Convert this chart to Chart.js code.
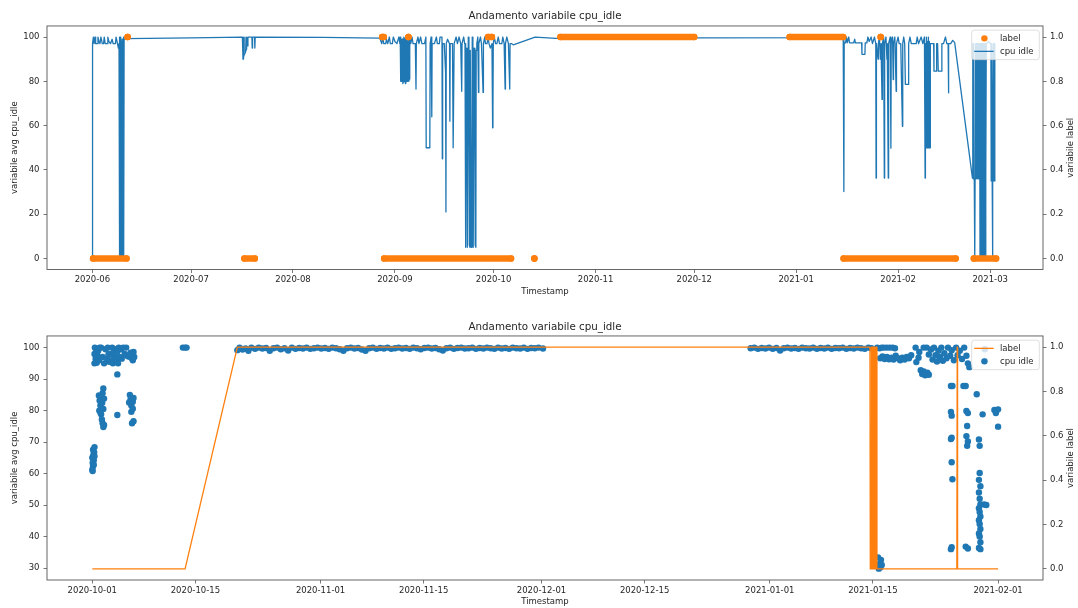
<!DOCTYPE html>
<html>
<head>
<meta charset="utf-8">
<script src="https://cdn.jsdelivr.net/npm/chart.js@4.4.1/dist/chart.umd.min.js"></script>
<style>
    body { margin: 0; background: #fff; }
    .box { position: absolute; left: 0; width: 1078px; }
    #topBox { top: 0; height: 305px; }
    #bottomBox { top: 305px; height: 303px; }
</style>
</head>
<body>
<div class="box" id="topBox"><canvas id="chartTop"></canvas></div>
<div class="box" id="bottomBox"><canvas id="chartBottom"></canvas></div>
<script>
// ---- top panel: x = days since 2020-06-01
const topOrigin = "2020-06-01";
const topTicks = ["2020-06", "2020-07", "2020-08", "2020-09", "2020-10", "2020-11", "2020-12", "2021-01", "2021-02", "2021-03"];
const topRange = [-13.8, 289.05];
const cpuTicksTop = [0, 20, 40, 60, 80, 100];
const labelTicks = [0, 0.2, 0.4, 0.6, 0.8, 1.0];

// cpu idle line [day, value]
const cpuIdleTop = [
    [0, 0], [0.05, 97], [0.3, 100], [0.5, 97], [0.8, 100], [1.0, 97], [1.5, 97], [1.7, 100], [2.0, 98], [2.3, 97], [2.6, 100],
    [3.0, 97], [3.4, 97], [3.6, 100], [3.9, 97], [4.5, 97], [4.7, 100], [5.0, 98], [5.5, 97], [6.0, 99], [6.3, 97], [7.0, 97],
    [7.2, 100], [7.5, 98], [7.9, 95], [8.1, 97], [8.15, 0], [8.3, 0], [8.35, 100], [8.45, 100], [8.5, 0], [8.65, 0], [8.7, 98],
    [8.8, 98], [8.85, 0], [9.0, 0], [9.05, 99], [9.15, 99], [9.2, 0], [9.35, 0], [9.4, 100], [9.5, 100], [9.55, 0], [9.6, 0],
    [9.65, 99], [10.2, 99.3], [30, 99.6],
    [45.6, 100], [45.8, 90], [45.9, 100], [46.0, 91], [46.3, 92.5], [46.4, 100], [46.5, 93], [46.8, 94.5], [46.9, 100],
    [47.2, 96], [47.3, 100], [48.5, 100], [48.6, 95], [48.7, 100], [49.3, 100], [49.4, 95], [49.5, 100], [70, 99.8], [87.4, 99.5],
    [88.0, 97], [88.3, 100], [88.6, 97], [89.2, 97], [89.4, 99], [89.8, 97], [90.3, 100], [90.6, 97], [91.2, 97], [91.5, 100],
    [92.0, 98], [92.6, 97], [93.2, 100], [93.5, 97],
    [93.6, 100], [93.75, 80], [94.0, 80], [94.1, 99], [94.3, 99], [94.4, 79], [94.6, 80], [94.7, 100], [94.9, 99], [95.0, 80],
    [95.2, 79], [95.3, 100], [95.5, 98], [95.6, 80], [95.8, 80], [95.9, 100], [96.1, 99], [96.2, 80], [96.4, 81], [96.5, 100],
    [96.8, 97], [97.2, 100], [97.5, 97], [98.2, 97], [98.4, 76.5], [98.5, 97], [99.0, 100], [99.3, 97], [99.8, 100], [100.2, 97],
    [101.0, 97], [101.4, 100], [101.5, 50], [102.6, 50], [102.7, 97], [103.0, 100], [103.2, 64], [103.3, 97], [104.0, 97],
    [104.6, 100], [104.9, 97], [105.5, 97], [105.7, 100], [106.3, 100], [106.4, 45], [106.5, 97], [107.0, 97], [107.4, 84],
    [107.5, 21], [107.6, 97], [108.0, 99], [108.6, 97], [108.7, 62], [108.8, 97], [109.5, 97], [109.7, 50], [109.9, 50],
    [110.0, 97], [110.6, 100], [111.0, 97], [111.5, 100], [112.0, 97], [112.3, 75.5], [112.4, 97], [112.9, 100], [113.2, 97],
    [113.3, 97], [113.4, 5], [113.6, 6], [113.7, 94], [113.9, 95], [114.0, 5], [114.2, 5], [114.3, 100], [114.5, 95], [114.6, 6],
    [114.8, 5], [114.9, 94], [115.1, 94], [115.2, 5], [115.4, 6], [115.5, 100], [115.7, 94], [115.8, 5], [116.0, 5], [116.1, 95],
    [116.3, 94], [116.4, 6], [116.6, 5], [116.7, 94], [116.9, 97],
    [117.2, 100], [117.4, 75], [117.5, 97], [118.0, 100], [118.3, 97], [118.8, 75], [118.9, 97], [119.3, 100], [119.5, 97],
    [120.0, 97], [120.3, 100], [120.6, 97], [121.0, 95], [121.5, 97], [121.7, 59], [121.8, 68], [121.9, 97], [122.2, 100],
    [122.6, 97], [123.0, 97], [123.4, 100], [123.8, 97], [124.5, 97], [124.8, 100], [125.2, 97], [125.5, 76.5], [125.6, 97],
    [126.0, 100], [126.5, 97], [126.9, 76.5], [127.0, 97], [127.5, 97], [128.0, 96.5], [134.6, 100], [141, 99.4], [184, 99.6],
    [228.0, 99.7],
    [228.3, 100], [228.5, 30.2], [228.6, 97.4], [229.0, 97.4], [229.3, 100], [229.5, 97.4], [230.0, 100], [230.2, 97.4],
    [231.5, 97.4], [231.8, 99], [232.0, 97.4], [233.9, 97.4], [234.0, 92.2], [234.9, 92.2], [235.0, 97.4], [235.5, 97.4],
    [235.8, 100], [236.2, 98], [236.8, 100], [237.2, 97], [237.8, 100], [238.2, 97], [238.3, 36.3], [238.4, 97], [238.9, 90],
    [239.0, 97], [239.3, 100], [239.6, 90], [239.8, 97], [240.1, 71.8], [240.2, 97], [240.6, 100], [240.8, 36.3], [240.9, 97],
    [241.3, 100], [241.6, 90], [241.7, 97], [242.0, 36.3], [242.1, 97], [242.6, 100], [242.8, 49.8], [242.9, 97], [243.3, 100],
    [243.5, 80.8], [243.6, 97], [244.0, 100], [244.4, 75.5], [244.5, 97], [245.0, 100], [245.3, 97], [245.8, 97], [246.3, 59.7],
    [246.4, 97], [246.7, 100], [247.0, 97], [247.2, 78.6], [248.1, 78.6], [248.2, 97], [248.6, 100], [249.0, 97], [250.5, 97],
    [250.8, 100], [251.2, 97], [252.0, 100], [252.5, 97], [253.0, 100], [253.2, 36.3], [253.3, 97], [253.5, 50], [253.6, 100],
    [253.8, 50], [253.9, 98], [254.1, 50], [254.2, 100], [254.4, 50], [254.5, 98], [254.7, 50], [254.8, 97], [255.3, 97],
    [255.8, 97], [255.9, 84.6], [256.6, 84.6], [256.7, 97], [257.0, 97], [257.2, 84.6], [258.2, 84.6], [258.3, 97], [258.8, 97],
    [259.4, 100], [259.8, 97], [260.2, 97], [260.3, 74.8], [260.4, 97], [261.0, 97], [261.6, 98.5], [262.2, 97.5], [267.6, 36.3],
    [267.7, 97], [267.85, 36], [268.0, 97], [268.15, 36], [268.3, 0], [268.4, 36], [268.5, 97], [268.65, 36], [268.8, 97],
    [268.95, 36], [269.1, 97], [269.25, 36], [269.4, 97], [269.55, 36], [269.7, 97], [269.85, 36], [269.9, 0], [270.0, 36],
    [270.1, 97], [270.3, 97], [270.4, 0], [270.55, 97], [270.7, 0], [270.85, 97], [271.0, 0], [271.15, 97], [271.3, 0],
    [271.45, 97], [271.6, 0], [271.7, 36], [271.8, 97], [272.5, 98], [273.2, 97], [273.3, 35], [273.45, 97], [273.6, 35],
    [273.7, 0], [273.8, 35], [273.95, 97], [274.1, 35], [274.25, 97], [274.4, 35], [274.5, 34.8]
];

// label samples, as runs of equal value: [value, first day, last day]
const labelRunsTop = [
    [0, 0.2, 10.4], [1, 10.7, 10.7], [0, 46.2, 49.4], [1, 88.1, 88.6], [0, 88.7, 127.3], [1, 96.1, 96.1],
    [1, 120.3, 121.5], [0, 134.4, 134.4], [1, 142.3, 183.0], [1, 212.0, 228.3], [0, 228.4, 262.5], [1, 239.7, 239.7],
    [0, 268.0, 274.8]
];

// ---- bottom panel: x = days since 2020-10-01
const bottomOrigin = "2020-10-01";
const bottomTicks = ["2020-10-01", "2020-10-15", "2020-11-01", "2020-11-15", "2020-12-01", "2020-12-15", "2021-01-01", "2021-01-15", "2021-02-01"];
const bottomRange = [-6.15, 129.1];
const cpuTicksBottom = [30, 40, 50, 60, 70, 80, 90, 100];

// label line [day, value]
const labelBottom = [
    [0, 0], [12.6, 0], [19.7, 1], [105.6, 1], [105.65, 0], [105.75, 0], [105.8, 1], [105.9, 1], [105.95, 0], [106.05, 0],
    [106.1, 1], [106.2, 1], [106.25, 0], [106.35, 0], [106.4, 1], [106.5, 1], [106.55, 0], [106.7, 0], [117.4, 0],
    [117.45, 1], [117.5, 0], [123.0, 0]
];

// cpu idle samples [day, value]
const cpuIdleBottom = [
    [0.0, 61.2], [0.1, 62.3], [0.05, 63.4], [0.2, 64.2], [0.0, 65.0], [0.15, 66.0], [0.25, 66.8], [0.1, 67.6], [0.3, 68.4],
    [0.2, 62.8], [0.3, 65.5], [0.05, 60.8],
    [0.3, 95.0], [0.45, 96.5], [0.3, 98.0], [0.5, 99.6], [0.35, 100], [0.6, 95.2], [0.7, 97.5], [0.9, 96.0], [0.8, 99.0], [1.0, 100],
    [0.9, 84.8], [1.0, 83.2], [1.1, 81.6], [0.95, 80.0], [1.2, 78.8], [1.3, 77.2], [1.4, 76.0], [1.5, 74.8], [1.6, 75.4],
    [1.2, 84.2], [1.5, 87.0], [1.35, 82.5], [1.5, 80.5], [1.6, 83.8], [1.1, 79.4], [1.4, 85.5],
    [1.2, 100], [1.4, 97.0], [1.6, 95.0], [1.8, 99.5], [2.0, 96.5], [2.1, 100], [2.3, 95.5], [2.4, 98.0], [2.6, 96.0], [2.7, 100],
    [2.8, 95.0], [3.0, 97.5], [3.1, 99.5], [3.3, 96.5], [3.5, 95.0], [3.6, 100], [3.7, 97.0], [3.9, 99.5], [4.0, 96.5], [4.2, 100],
    [4.4, 98.0], [4.6, 100], [4.7, 97.5], [2.2, 97.8], [2.9, 98.5], [3.4, 98.8], [3.4, 91.5], [3.4, 78.6],
    [4.9, 97.2], [5.1, 97.6], [5.3, 96.8], [5.5, 96.0], [5.6, 98.6], [5.7, 97.0], [5.2, 98.4],
    [5.1, 85.0], [5.2, 83.6], [5.0, 82.6], [5.3, 81.6], [5.5, 82.8], [5.6, 84.0], [5.3, 79.6], [5.5, 80.6], [5.4, 76.0], [5.6, 76.6],
    [12.3, 100], [12.6, 100], [12.8, 100],
    [19.7, 99.2], [20.0, 100], [20.4, 99.4], [20.8, 99.7], [21.2, 99.0], [21.6, 100], [22.1, 99.6], [22.6, 100], [23.1, 99.7],
    [23.6, 99.9], [24.1, 99.0], [24.6, 99.8], [25.1, 100], [25.6, 99.5], [26.1, 99.8], [26.6, 99.1], [27.1, 100], [27.6, 99.6],
    [28.1, 99.9], [28.6, 99.7], [29.1, 100], [29.6, 99.6], [30.1, 99.8], [30.6, 100], [31.1, 99.7], [31.6, 99.9], [32.1, 99.6],
    [32.6, 100], [33.1, 99.8], [33.6, 99.5], [34.1, 99.0], [34.6, 99.8], [35.1, 100], [35.6, 99.7], [36.1, 99.9], [36.6, 99.4],
    [37.1, 99.0], [37.6, 99.8], [38.1, 100], [38.6, 99.6], [39.1, 99.9], [39.6, 99.7], [40.1, 100], [40.6, 99.6], [41.1, 99.8],
    [41.6, 100], [42.1, 99.7], [42.6, 99.9], [43.1, 99.6], [43.6, 100], [44.1, 99.8], [44.6, 99.5], [45.1, 99.9], [45.6, 100],
    [46.1, 99.7], [46.6, 99.9], [47.1, 99.5], [47.6, 99.1], [48.1, 99.8], [48.6, 100], [49.1, 99.6], [49.6, 99.9], [50.1, 100],
    [50.6, 99.7], [51.1, 99.8], [51.6, 100], [52.1, 99.6], [52.6, 99.9], [53.1, 99.7], [53.6, 100], [54.1, 99.8], [54.6, 99.6],
    [55.1, 100], [55.6, 99.7], [56.1, 99.9], [56.6, 99.6], [57.1, 100], [57.6, 99.8], [58.1, 99.7], [58.6, 100], [59.1, 99.6],
    [59.6, 99.9], [60.1, 99.8], [60.6, 100], [61.2, 99.7],
    [89.4, 99.8], [89.9, 100], [90.4, 99.6], [90.9, 99.9], [91.4, 99.7], [91.9, 100], [92.4, 99.6], [92.9, 99.9], [93.4, 99.1],
    [93.9, 99.8], [94.4, 100], [94.9, 99.7], [95.4, 99.9], [95.9, 99.6], [96.4, 100], [96.9, 99.8], [97.4, 99.7], [97.9, 100],
    [98.4, 99.6], [98.9, 99.9], [99.4, 99.7], [99.9, 100], [100.4, 99.6], [100.9, 99.9], [101.4, 99.8], [101.9, 100], [102.4, 99.6],
    [102.9, 99.9], [103.4, 99.7], [103.9, 100], [104.4, 99.8], [104.9, 99.6], [105.4, 100], [105.8, 99.8],
    [106.6, 30.6], [106.8, 29.8], [106.9, 31.4], [107.1, 32.6], [106.7, 33.4], [107.0, 30.2], [107.2, 31.0],
    [106.6, 100], [106.9, 99.8], [107.2, 100], [107.5, 100], [107.9, 100], [108.3, 100], [108.7, 100], [109.0, 99.8],
    [107.0, 96.6], [107.3, 97.2], [107.6, 96.4], [107.9, 97.0], [108.2, 96.3], [108.5, 96.8], [108.8, 96.2], [109.1, 97.4],
    [109.4, 96.6], [109.7, 96.0], [110.0, 96.8], [110.3, 96.2], [110.6, 97.0], [110.9, 96.6],
    [111.2, 97.6], [111.8, 100], [111.9, 95.4], [112.2, 96.8], [112.3, 98.6], [112.5, 92.8], [112.7, 91.6], [112.9, 92.4],
    [113.1, 91.2], [113.4, 92.0], [113.6, 91.4], [112.9, 100], [113.3, 100], [113.6, 97.8], [113.9, 99.4], [114.1, 96.2],
    [114.3, 100], [114.5, 97.6], [114.7, 95.6], [114.9, 99.0], [115.1, 97.0], [115.3, 100], [115.5, 95.8], [115.7, 98.2],
    [116.0, 96.6], [116.2, 100], [116.5, 97.4], [116.7, 99.2], [117.0, 96.0], [117.3, 100], [117.5, 97.6], [117.8, 99.0],
    [118.1, 96.4], [118.4, 100], [118.7, 97.4], [118.9, 95.0], [119.1, 93.8], [121.2, 95.8], [121.2, 99.5],
    [116.6, 87.8], [116.8, 87.8], [118.3, 87.8], [118.6, 87.8],
    [116.6, 79.6], [116.7, 78.4], [116.7, 71.4], [116.6, 71.0], [116.7, 63.6], [116.8, 58.2], [116.7, 36.6], [116.6, 36.0],
    [118.7, 79.9], [118.9, 79.2], [118.8, 75.1], [118.7, 71.9], [118.9, 70.2], [118.8, 68.8], [118.6, 36.8], [118.9, 36.2],
    [120.1, 85.2], [120.9, 78.8], [120.4, 70.8], [120.5, 68.8], [120.5, 60.2], [120.4, 58.0], [120.6, 56.0], [120.4, 54.0],
    [120.5, 52.0], [120.6, 50.2], [120.4, 49.0], [120.5, 47.8], [120.6, 46.4], [120.4, 45.2], [120.5, 44.0], [120.6, 42.4],
    [120.4, 41.0], [120.5, 40.0], [120.6, 38.2], [120.4, 36.4], [120.6, 36.0], [121.1, 50.2], [121.4, 50.0],
    [122.5, 80.2], [122.8, 80.0], [123.0, 80.4], [122.7, 79.2], [123.0, 74.9]
];

const FONT = "'DejaVu Sans', sans-serif";
const INK = "#262626";
const SPINE = "#555555";
const BLUE = "#1f77b4";
const ORANGE = "#ff7f0e";
const DAY = 86400000;

function dayOf(date, origin) {
    return (Date.parse(date) - Date.parse(origin)) / DAY;
}

function toPoints(pairs) {
    return pairs.map(p => ({ x: p[0], y: p[1] }));
}

function runsToPoints(runs) {
    const pts = [];
    runs.forEach(r => {
        pts.push({ x: r[1], y: r[0] }, { x: r[2], y: r[0] }, { x: r[2], y: null });
    });
    return pts;
}

// frame, matplotlib-like legend and right axis label
const mplDecor = {
    id: "mplDecor",
    afterDatasetsDraw(chart) {
        const ca = chart.chartArea;
        const ctx = chart.ctx;
        ctx.save();
        ctx.strokeStyle = SPINE;
        ctx.lineWidth = 0.9;
        ctx.strokeRect(ca.left, ca.top, ca.right - ca.left, ca.bottom - ca.top);
        ctx.restore();
    },
    afterDraw(chart, args, opts) {
        const ca = chart.chartArea;
        const ctx = chart.ctx;
        ctx.save();

        const right = ca.right - 3.7;
        const top = ca.top + 4.2;
        const left = right - 67.6;
        ctx.beginPath();
        ctx.roundRect(left, top, right - left, 29.5, 2.5);
        ctx.fillStyle = "rgba(255,255,255,0.8)";
        ctx.fill();
        ctx.strokeStyle = "rgba(204,204,204,0.8)";
        ctx.lineWidth = 0.8;
        ctx.stroke();

        ctx.font = "8.5px " + FONT;
        ctx.textBaseline = "middle";
        ctx.textAlign = "left";
        opts.items.forEach((item, i) => {
            const y = top + 8.2 + i * 13;
            if (item.kind === "dot") {
                ctx.beginPath();
                ctx.arc(left + 12.7, y, 3.2, 0, Math.PI * 2);
                ctx.fillStyle = item.color;
                ctx.fill();
            } else {
                ctx.beginPath();
                ctx.moveTo(left + 2.5, y);
                ctx.lineTo(left + 22, y);
                ctx.strokeStyle = item.color;
                ctx.lineWidth = 1.3;
                ctx.stroke();
            }
            ctx.fillStyle = INK;
            ctx.fillText(item.text, left + 28.3, y + 0.5);
        });

        ctx.translate(1071, (ca.top + ca.bottom) / 2);
        ctx.rotate(-Math.PI / 2);
        ctx.textAlign = "center";
        ctx.fillStyle = INK;
        ctx.fillText(opts.rightTitle, 0, 0);
        ctx.restore();
    }
};

function tickFont() {
    return { family: FONT, size: 8.5 };
}

function gridStyle() {
    return { drawOnChartArea: false, drawTicks: true, tickLength: 3.5, color: SPINE, lineWidth: 0.8 };
}

function buildChart(canvasId, cfg) {
    return new Chart(document.getElementById(canvasId), {
        type: "line",
        data: { datasets: cfg.datasets },
        options: {
            responsive: true,
            maintainAspectRatio: false,
            animation: false,
            devicePixelRatio: 1,
            events: [],
            layout: { padding: 0 },
            plugins: {
                legend: { display: false },
                tooltip: { enabled: false },
                title: {
                    display: true,
                    text: "Andamento variabile cpu_idle",
                    fullSize: false,
                    color: INK,
                    font: { family: FONT, size: 10.3, weight: "normal", lineHeight: 1.2 },
                    padding: { top: cfg.titlePad[0], bottom: cfg.titlePad[1] }
                },
                mplDecor: { items: cfg.legend, rightTitle: "variabile label" }
            },
            scales: {
                x: {
                    type: "linear",
                    min: cfg.xRange[0],
                    max: cfg.xRange[1],
                    afterBuildTicks: axis => {
                        axis.ticks = cfg.xTicks.map(t => ({ value: cfg.xTickValue(t) }));
                    },
                    afterFit: axis => { axis.height = cfg.xHeight; },
                    ticks: {
                        autoSkip: false,
                        maxRotation: 0,
                        padding: 2,
                        color: INK,
                        font: tickFont(),
                        callback: (value, index) => cfg.xTicks[index]
                    },
                    grid: gridStyle(),
                    border: { display: false },
                    title: {
                        display: true,
                        text: "Timestamp",
                        color: INK,
                        font: tickFont(),
                        padding: { top: 0, bottom: cfg.xTitlePad }
                    }
                },
                y: {
                    position: "left",
                    min: cfg.yRange[0],
                    max: cfg.yRange[1],
                    afterBuildTicks: axis => {
                        axis.ticks = cfg.yTicks.map(v => ({ value: v }));
                    },
                    afterFit: axis => { axis.width = 47; },
                    ticks: { autoSkip: false, padding: 4, color: INK, font: tickFont(), callback: v => String(v) },
                    grid: gridStyle(),
                    border: { display: false },
                    title: {
                        display: true,
                        text: "variabile avg cpu_idle",
                        color: INK,
                        font: tickFont(),
                        padding: { top: 9.5, bottom: 0 }
                    }
                },
                y1: {
                    position: "right",
                    min: -0.05,
                    max: 1.05,
                    afterBuildTicks: axis => {
                        axis.ticks = labelTicks.map(v => ({ value: v }));
                    },
                    afterFit: axis => { axis.width = 35; },
                    ticks: { autoSkip: false, padding: 3.5, color: INK, font: tickFont(), callback: v => v.toFixed(1) },
                    grid: gridStyle(),
                    border: { display: false }
                }
            }
        },
        plugins: [mplDecor]
    });
}

buildChart("chartTop", {
    titlePad: [9.8, 3.8],
    xRange: topRange,
    xTicks: topTicks,
    xTickValue: t => dayOf(t + "-01", topOrigin),
    xHeight: 35.5,
    xTitlePad: 8.2,
    yRange: [-5, 105],
    yTicks: cpuTicksTop,
    legend: [
        { text: "label", color: ORANGE, kind: "dot" },
        { text: "cpu idle", color: BLUE, kind: "line" }
    ],
    datasets: [
        {
            label: "label",
            data: runsToPoints(labelRunsTop),
            yAxisID: "y1",
            borderColor: ORANGE,
            borderWidth: 6.4,
            borderCapStyle: "round",
            borderJoinStyle: "round",
            pointRadius: 3.2,
            pointBorderWidth: 0,
            pointBackgroundColor: ORANGE,
            spanGaps: false
        },
        {
            label: "cpu idle",
            data: toPoints(cpuIdleTop),
            yAxisID: "y",
            borderColor: BLUE,
            borderWidth: 1.3,
            borderJoinStyle: "round",
            pointRadius: 0,
            tension: 0
        }
    ]
});

buildChart("chartBottom", {
    titlePad: [15.8, 2.8],
    xRange: bottomRange,
    xTicks: bottomTicks,
    xTickValue: t => dayOf(t, bottomOrigin),
    xHeight: 28,
    xTitlePad: 1.2,
    yRange: [26.2, 103.7],
    yTicks: cpuTicksBottom,
    legend: [
        { text: "label", color: ORANGE, kind: "line" },
        { text: "cpu idle", color: BLUE, kind: "dot" }
    ],
    datasets: [
        {
            label: "label",
            data: toPoints(labelBottom),
            yAxisID: "y1",
            borderColor: ORANGE,
            borderWidth: 1.3,
            borderJoinStyle: "round",
            pointRadius: 0,
            tension: 0
        },
        {
            label: "cpu idle",
            data: toPoints(cpuIdleBottom),
            yAxisID: "y",
            showLine: false,
            pointRadius: 3.2,
            pointBorderWidth: 0,
            pointBackgroundColor: BLUE
        }
    ]
});
</script>
</body>
</html>
